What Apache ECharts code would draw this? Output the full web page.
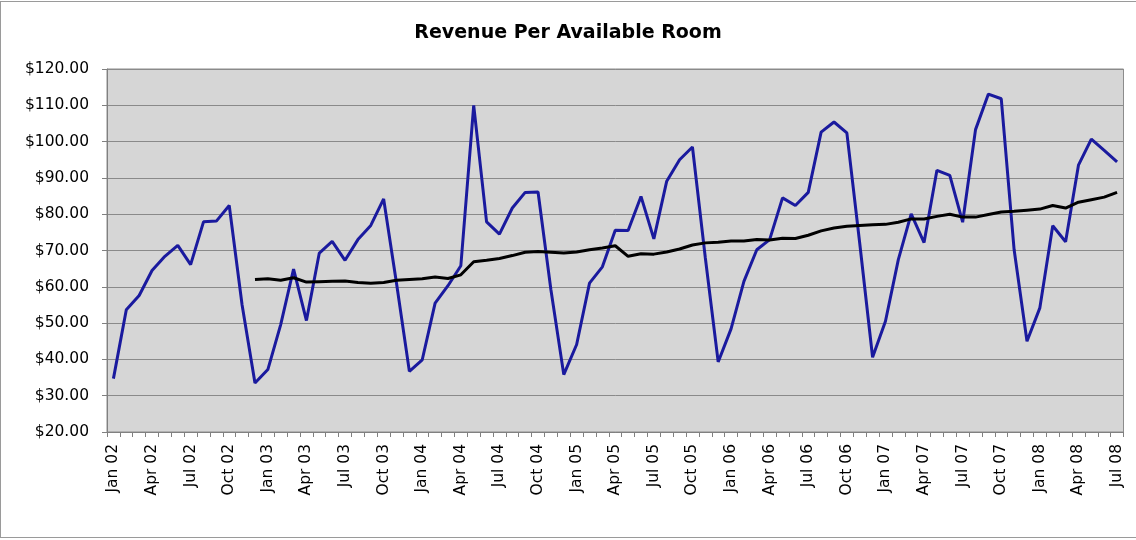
<!DOCTYPE html>
<html>
<head>
<meta charset="utf-8">
<title>Revenue Per Available Room</title>
<script src="https://cdn.jsdelivr.net/npm/echarts@6/dist/echarts.min.js"></script>
<style>
  html, body { margin: 0; padding: 0; background: #fff; overflow: hidden; width: 1136px; height: 540px; }
  .frame { position: absolute; left: 0; top: 1px; width: 1160px; height: 537px; border: 1px solid #9a9a9a; box-sizing: border-box; }
  #chart { position: absolute; left: 0; top: 0; width: 1136px; height: 540px; }
</style>
</head>
<body>
<div class="frame"></div>
<div id="chart"></div>
<script>
// monthly categories, Jan 02 .. Jul 08
const categories = [
  'Jan 02', 'Feb 02', 'Mar 02', 'Apr 02', 'May 02', 'Jun 02', 'Jul 02', 'Aug 02', 'Sep 02', 'Oct 02', 'Nov 02', 'Dec 02',
  'Jan 03', 'Feb 03', 'Mar 03', 'Apr 03', 'May 03', 'Jun 03', 'Jul 03', 'Aug 03', 'Sep 03', 'Oct 03', 'Nov 03', 'Dec 03',
  'Jan 04', 'Feb 04', 'Mar 04', 'Apr 04', 'May 04', 'Jun 04', 'Jul 04', 'Aug 04', 'Sep 04', 'Oct 04', 'Nov 04', 'Dec 04',
  'Jan 05', 'Feb 05', 'Mar 05', 'Apr 05', 'May 05', 'Jun 05', 'Jul 05', 'Aug 05', 'Sep 05', 'Oct 05', 'Nov 05', 'Dec 05',
  'Jan 06', 'Feb 06', 'Mar 06', 'Apr 06', 'May 06', 'Jun 06', 'Jul 06', 'Aug 06', 'Sep 06', 'Oct 06', 'Nov 06', 'Dec 06',
  'Jan 07', 'Feb 07', 'Mar 07', 'Apr 07', 'May 07', 'Jun 07', 'Jul 07', 'Aug 07', 'Sep 07', 'Oct 07', 'Nov 07', 'Dec 07',
  'Jan 08', 'Feb 08', 'Mar 08', 'Apr 08', 'May 08', 'Jun 08', 'Jul 08'
]

// RevPAR per month
const revpar = [
  34.7, 53.7, 57.6, 64.5, 68.4, 71.4, 66.1, 77.9, 78.1, 82.4, 55.0, 33.5,
  37.2, 49.6, 64.9, 50.7, 69.3, 72.5, 67.3, 73.0, 76.9, 84.2, 61.0, 36.7,
  39.9, 55.5, 60.3, 65.8, 110.0, 77.9, 74.5, 81.7, 86.0, 86.1, 59.2, 35.8,
  44.1, 61.0, 65.5, 75.6, 75.5, 84.9, 73.2, 89.1, 95.0, 98.5, 68.0, 39.3,
  48.4, 61.5, 70.2, 73.0, 84.5, 82.4, 86.0, 102.6, 105.4, 102.4, 72.0, 40.6,
  50.5, 67.5, 80.1, 72.2, 92.1, 90.7, 77.8, 103.3, 113.1, 111.8, 70.2, 45.0,
  54.2, 76.8, 72.4, 93.5, 100.7, 97.6, 94.4
]

// 12 month trailing average (starts Dec 02)
const trailing = [
  null, null, null, null, null, null, null, null, null, null, null, 62.0,
  62.2, 61.8, 62.5, 61.3, 61.4, 61.5, 61.6, 61.2, 61.0, 61.2, 61.8, 62.0,
  62.2, 62.7, 62.3, 63.3, 66.9, 67.3, 67.8, 68.6, 69.5, 69.7, 69.5, 69.3,
  69.6, 70.2, 70.7, 71.3, 68.4, 69.1, 69.0, 69.6, 70.4, 71.5, 72.1, 72.3,
  72.6, 72.6, 73.0, 72.9, 73.4, 73.3, 74.2, 75.4, 76.2, 76.7, 76.9, 77.1,
  77.2, 77.8, 78.7, 78.7, 79.4, 80.0, 79.2, 79.2, 79.9, 80.6, 80.8, 81.1,
  81.4, 82.4, 81.7, 83.3, 84.0, 84.7, 86.0
]

const yMin = 20
const yMax = 120
const yStep = 10

const font = '"DejaVu Sans", Verdana, sans-serif'

const chart = echarts.init(document.getElementById('chart'))

const option = {
  backgroundColor: 'transparent',
  animation: false,
  title: {
    text: 'Revenue Per Available Room',
    left: 'center',
    top: 19,
    textStyle: { fontFamily: font, fontSize: 19, fontWeight: 'bold', color: '#000' }
  },
  grid: {
    left: 107,
    right: 12.5,
    top: 69,
    bottom: 108,
    show: true,
    backgroundColor: '#d6d6d6',
    borderColor: '#8c8c8c',
    borderWidth: 1
  },
  xAxis: {
    type: 'category',
    data: categories,
    boundaryGap: true,
    axisLine: { lineStyle: { color: '#808080', width: 1 } },
    axisTick: { show: true, interval: 0, length: 5, lineStyle: { color: '#808080' } },
    axisLabel: {
      interval: 2,
      rotate: 90,
      margin: 12,
      color: '#000',
      fontFamily: font,
      fontSize: 15.5
    },
    splitLine: { show: false }
  },
  yAxis: {
    type: 'value',
    min: yMin,
    max: yMax,
    interval: yStep,
    axisLine: { show: true, lineStyle: { color: '#808080', width: 1 } },
    axisTick: { show: true, length: 5, lineStyle: { color: '#808080' } },
    axisLabel: {
      color: '#000',
      fontFamily: font,
      fontSize: 15.5,
      margin: 18,
      formatter: (v) => '$' + v.toFixed(2)
    },
    splitLine: { lineStyle: { color: '#8a8a8a', width: 1 } }
  },
  series: [
    {
      name: 'RevPAR',
      type: 'line',
      data: revpar,
      symbol: 'none',
      lineStyle: { color: '#1a1a9e', width: 3 },
      z: 2
    },
    {
      name: '12 Month Average',
      type: 'line',
      data: trailing,
      symbol: 'none',
      connectNulls: false,
      lineStyle: { color: '#000', width: 3 },
      z: 3
    }
  ]
}

chart.setOption(option)
</script>
</body>
</html>
